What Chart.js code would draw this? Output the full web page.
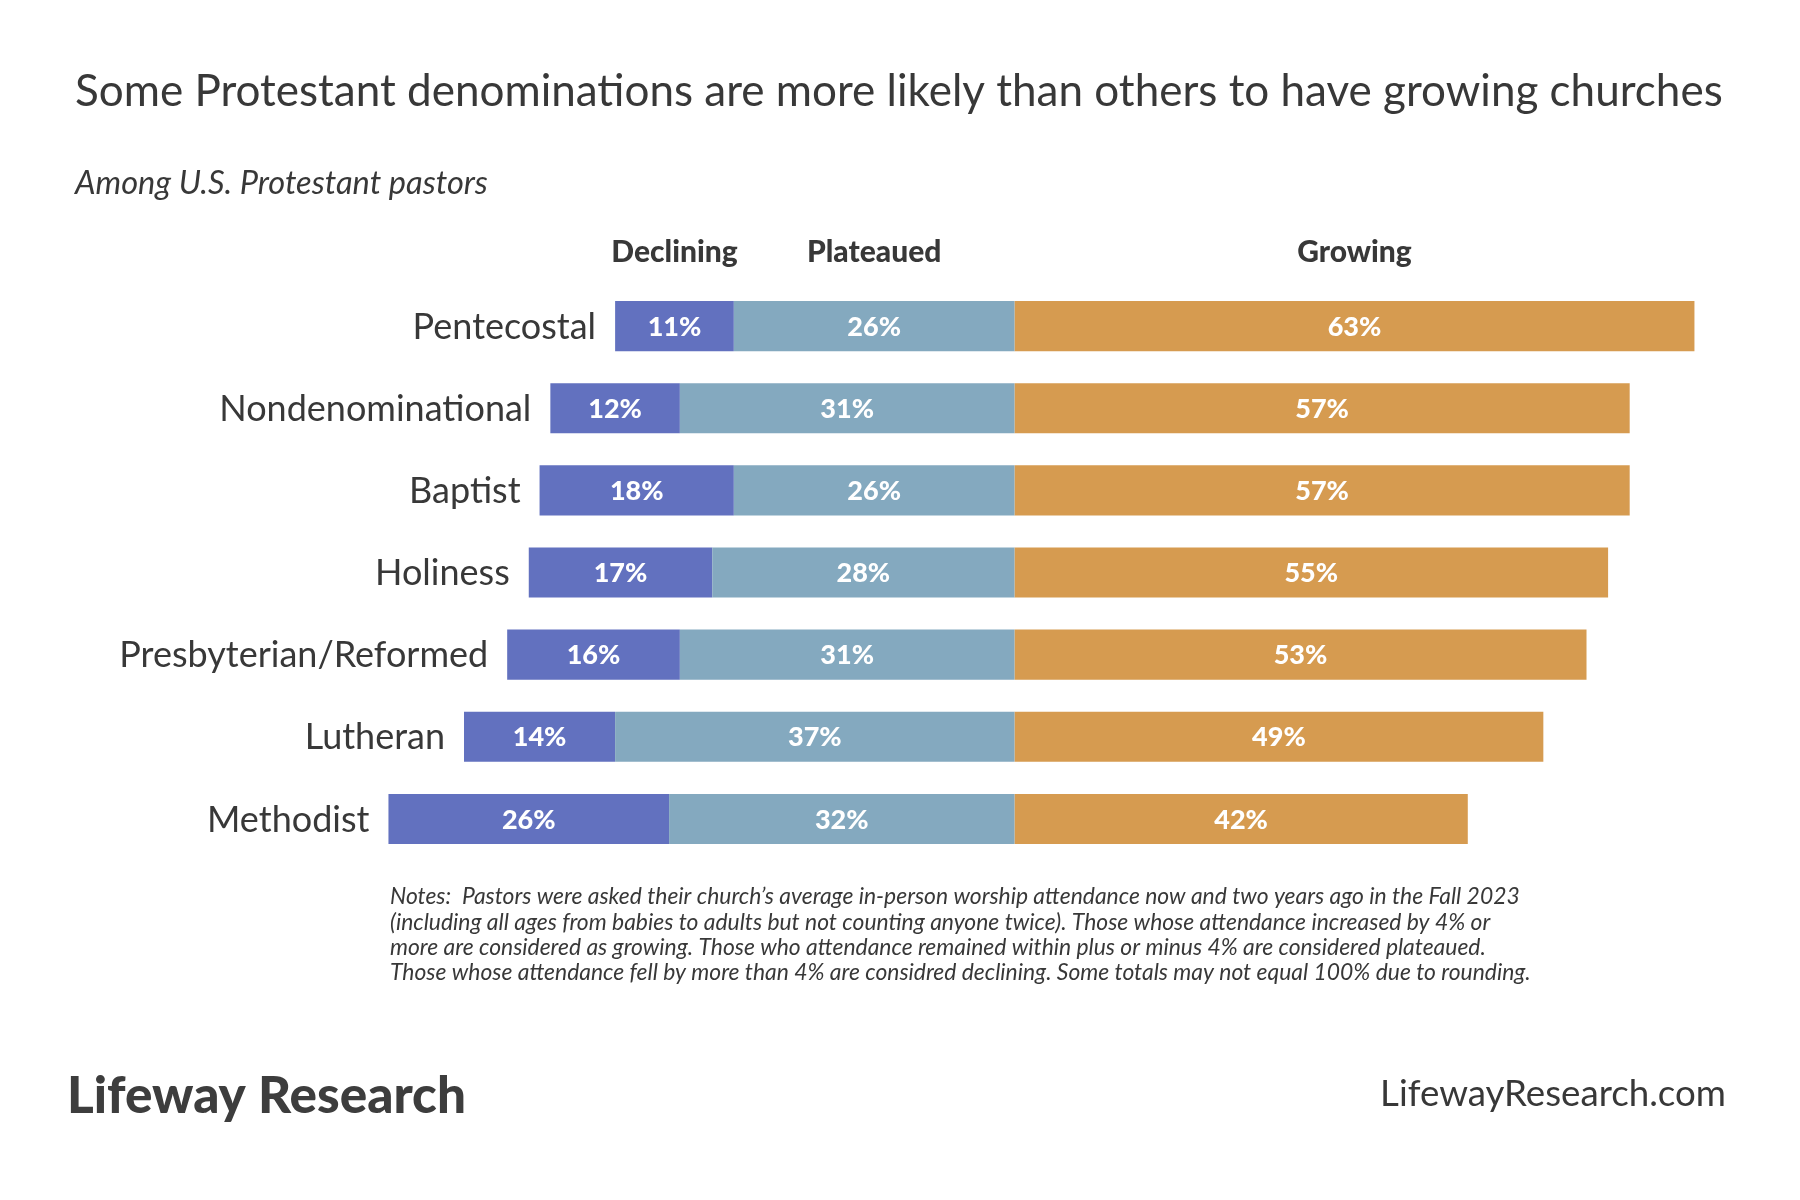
<!DOCTYPE html>
<html>
<head>
<meta charset="utf-8">
<script src="https://cdn.jsdelivr.net/npm/chart.js@4"></script>
<style>
html,body{margin:0;padding:0;background:#fff;}
canvas{display:block;}
</style>
</head>
<body>
<canvas id="c" width="1800" height="1200"></canvas>
<script>
const categories = ["Pentecostal","Nondenominational","Baptist","Holiness","Presbyterian/Reformed","Lutheran","Methodist"];
const declining = [11,12,18,17,16,14,26];
const plateaued = [26,31,26,28,31,37,32];
const growing = [63,57,57,55,53,49,42];
const seriesNames = ["Declining","Plateaued","Growing"];
const seriesColors = ["#6271BF","#84A9BF","#D69B50"];

const titleText = "Some Protestant denominations are more likely than others to have growing churches";
const subtitleText = "Among U.S. Protestant pastors";
const notesLines = [
  "Notes:  Pastors were asked their church\u2019s average in-person worship attendance now and two years ago in the Fall 2023",
  "(including all ages from babies to adults but not counting anyone twice). Those whose attendance increased by 4% or",
  "more are considered as growing. Those who attendance remained within plus or minus 4% are considered plateaued.",
  "Those whose attendance fell by more than 4% are considred declining. Some totals may not equal 100% due to rounding."
];
const brandText = ["Lifeway", "Research"];
const urlText = "LifewayResearch.com";

const FONT = "Lato, 'Noto Sans', sans-serif";
const TEXT = "#383838";

function fitFont(ctx, text, style, weight, targetW, baseSize) {
  ctx.font = `${style} ${weight} ${baseSize}px ${FONT}`;
  const w = ctx.measureText(text).width;
  return baseSize * targetW / w;
}

const textPlugin = {
  id: 'texts',
  afterDatasetsDraw(chart) {
    const ctx = chart.ctx;
    ctx.save();
    ctx.fillStyle = "#ffffff";
    ctx.textAlign = "center";
    ctx.textBaseline = "middle";
    ctx.font = `900 27px ${FONT}`;
    chart.data.datasets.forEach((ds, di) => {
      const meta = chart.getDatasetMeta(di);
      meta.data.forEach((el, i) => {
        const cx = (el.x + el.base) / 2;
        ctx.fillText(Math.abs(ds.data[i]) + "%", cx, el.y + 1);
      });
    });
    ctx.fillStyle = TEXT;
    ctx.font = `900 30px ${FONT}`;
    chart.data.datasets.forEach((ds, di) => {
      const el = chart.getDatasetMeta(di).data[0];
      ctx.fillText(ds.label, (el.x + el.base) / 2, 252);
    });
    ctx.textAlign = "right";
    ctx.font = `normal 36px ${FONT}`;
    const decMeta = chart.getDatasetMeta(1);
    decMeta.data.forEach((el, i) => {
      const left = Math.min(el.x, el.base);
      ctx.fillText(categories[i], left - 19, el.y + 1);
    });
    ctx.restore();
  },
  afterDraw(chart) {
    const ctx = chart.ctx;
    ctx.save();
    ctx.fillStyle = TEXT;
    ctx.textBaseline = "middle";
    ctx.textAlign = "left";
    let s = fitFont(ctx, titleText, "normal", "normal", 1648, 42);
    ctx.font = `normal ${s}px ${FONT}`;
    ctx.fillText(titleText, 75, 92);
    s = fitFont(ctx, subtitleText, "italic", "normal", 413, 28);
    ctx.font = `italic ${s}px ${FONT}`;
    ctx.fillText(subtitleText, 75, 183);
    s = fitFont(ctx, notesLines[0], "italic", "normal", 1130, 20);
    ctx.font = `italic ${s}px ${FONT}`;
    notesLines.forEach((ln, i) => ctx.fillText(ln, 390, 897 + i * 25.3));
    ctx.fillStyle = "#3d3d3d";
    const full = brandText.join(" ");
    s = fitFont(ctx, full, "normal", "900", 399, 46);
    ctx.font = `normal 900 ${s}px ${FONT}`;
    ctx.fillText(full, 67, 1096);
    ctx.fillStyle = TEXT;
    s = fitFont(ctx, urlText, "normal", "normal", 346, 36);
    ctx.font = `normal ${s}px ${FONT}`;
    ctx.textAlign = "right";
    ctx.fillText(urlText, 1726, 1094);
    ctx.restore();
  }
};

const ctx = document.getElementById('c').getContext('2d');
new Chart(ctx, {
  type: 'bar',
  data: {
    labels: categories,
    datasets: [
      { label: seriesNames[1], data: plateaued.map(v => -v), backgroundColor: seriesColors[1] },
      { label: seriesNames[0], data: declining.map(v => -v), backgroundColor: seriesColors[0] },
      { label: seriesNames[2], data: growing.slice(), backgroundColor: seriesColors[2] }
    ]
  },
  options: {
    indexAxis: 'y',
    responsive: false,
    animation: false,
    devicePixelRatio: 1,
    layout: { padding: { left: 151, right: 30, top: 285, bottom: 340 } },
    datasets: { bar: { barPercentage: 0.61, categoryPercentage: 1, borderWidth: 0, borderSkipped: false } },
    scales: {
      x: { display: false, stacked: true, min: -80, max: 70 },
      y: { display: false, stacked: true }
    },
    plugins: { legend: { display: false }, tooltip: { enabled: false }, title: { display: false } }
  },
  plugins: [textPlugin]
});
</script>
</body>
</html>
